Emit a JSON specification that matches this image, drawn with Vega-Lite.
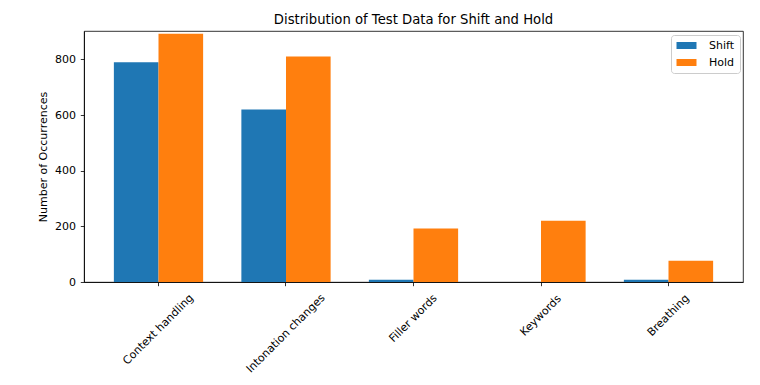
{
  "$schema": "https://vega.github.io/schema/vega-lite/v6.json",
  "width": 659,
  "height": 251,
  "autosize": "none",
  "padding": {"left": 84, "top": 31, "right": 17, "bottom": 103},
  "background": "white",
  "config": {
    "font": "DejaVu Sans",
    "view": {"stroke": "black", "strokeWidth": 0.8},
    "axis": {
      "labelFont": "DejaVu Sans",
      "labelFontSize": 11,
      "labelColor": "black",
      "titleFont": "DejaVu Sans",
      "titleFontSize": 11,
      "titleFontWeight": "normal",
      "titleColor": "black",
      "domainColor": "black",
      "domainWidth": 0.8,
      "tickColor": "black",
      "tickWidth": 0.8,
      "tickSize": 3.7,
      "grid": false
    }
  },
  "title": {
    "text": "Distribution of Test Data for Shift and Hold",
    "font": "DejaVu Sans",
    "fontSize": 13.2,
    "fontWeight": "normal",
    "color": "black",
    "anchor": "middle",
    "frame": "group",
    "baseline": "bottom",
    "offset": -9
  },
  "data": {
    "values": [
      {"feature": "Context handling", "type": "Shift", "count": 790},
      {"feature": "Context handling", "type": "Hold", "count": 892},
      {"feature": "Intonation changes", "type": "Shift", "count": 620},
      {"feature": "Intonation changes", "type": "Hold", "count": 810},
      {"feature": "Filler words", "type": "Shift", "count": 8},
      {"feature": "Filler words", "type": "Hold", "count": 192},
      {"feature": "Keywords", "type": "Shift", "count": 0},
      {"feature": "Keywords", "type": "Hold", "count": 220},
      {"feature": "Breathing", "type": "Shift", "count": 8},
      {"feature": "Breathing", "type": "Hold", "count": 76}
    ]
  },
  "mark": {"type": "bar"},
  "encoding": {
    "x": {
      "field": "feature",
      "type": "nominal",
      "sort": ["Context handling", "Intonation changes", "Filler words", "Keywords", "Breathing"],
      "scale": {"paddingInner": 0, "paddingOuter": 0.0843},
      "axis": {
        "title": null,
        "labelAngle": -45,
        "labelAlign": "center",
        "labelBaseline": "middle",
        "labelPadding": {
          "condition": [
            {"test": "datum.value === 'Context handling'", "value": 43.5},
            {"test": "datum.value === 'Intonation changes'", "value": 47.5},
            {"test": "datum.value === 'Filler words'", "value": 32.5}
          ],
          "value": 29.5
        }
      }
    },
    "xOffset": {
      "field": "type",
      "type": "nominal",
      "sort": ["Shift", "Hold"],
      "scale": {"paddingInner": 0, "paddingOuter": 0.4286}
    },
    "y": {
      "field": "count",
      "type": "quantitative",
      "scale": {"domain": [0, 902], "nice": false},
      "axis": {
        "title": "Number of Occurrences",
        "values": [0, 200, 400, 600, 800],
        "labelPadding": 4.9,
        "titlePadding": 6
      }
    },
    "color": {
      "field": "type",
      "type": "nominal",
      "scale": {"domain": ["Shift", "Hold"], "range": ["#1f77b4", "#ff7f0e"]},
      "legend": {
        "title": null,
        "orient": "none",
        "legendX": 587,
        "legendY": 4,
        "padding": 5,
        "rowPadding": 5,
        "strokeColor": "#cccccc",
        "fillColor": "white",
        "cornerRadius": 3,
        "symbolType": "M-1,-0.7L3,-0.7L3,0.7L-1,0.7Z",
        "symbolSize": 100,
        "symbolStrokeWidth": 0,
        "symbolOpacity": 1,
        "labelOffset": 22,
        "labelFont": "DejaVu Sans",
        "labelFontSize": 11,
        "labelColor": "black"
      }
    }
  }
}
